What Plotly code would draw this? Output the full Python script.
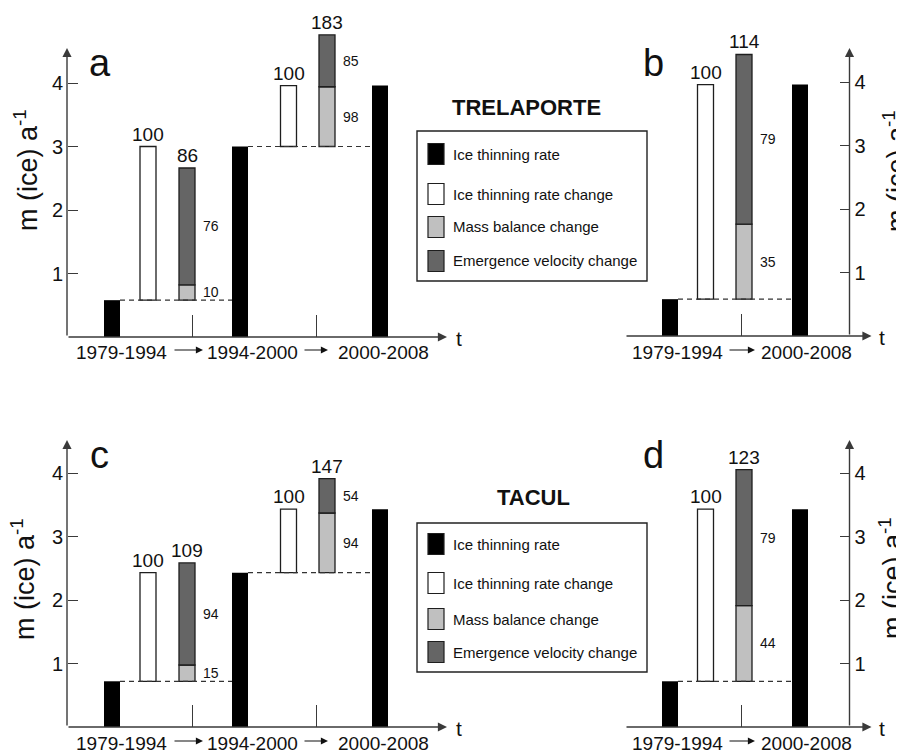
import plotly.graph_objects as go

W, H = 904, 753
OFF = 8           # the page body margin that shifts the figure on screen
FONT = "Liberation Sans, Arial, sans-serif"

# ------------------------------------------------------------------ data
glaciers = ["TRELAPORTE", "TACUL"]
periods = ["1979-1994", "1994-2000", "2000-2008"]
tick_values = [1, 2, 3, 4]
legend_labels = ["Ice thinning rate", "Ice thinning rate change",
                 "Mass balance change", "Emergence velocity change"]

# ice thinning rate (m ice / a) for 1979-1994, 1994-2000, 2000-2008
trel_rate = [0.58, 3.00, 3.96]
tacul_rate = [0.72, 2.43, 3.43]

# contributions (% of the ice thinning rate change = 100)
change_pct = 100
trel_mb_pct = [10, 98]
trel_ev_pct = [76, 85]
trel_total_pct = [86, 183]
trel_mb_pct_long = [35]
trel_ev_pct_long = [79]
trel_total_pct_long = [114]

tacul_mb_pct = [15, 94]
tacul_ev_pct = [94, 54]
tacul_total_pct = [109, 147]
tacul_mb_pct_long = [44]
tacul_ev_pct_long = [79]
tacul_total_pct_long = [123]

# ------------------------------------------------------------------ style / layout
BLACK, WHITE, LIGHT, DARK = "#000000", "#ffffff", "#c0c0c0", "#656565"
EDGE, AXIS, TXT = "#1e1e1e", "#3a3a3a", "#111111"
BW = 1.6          # bar width in x units (1 unit = 10 px)
YPX = 63.5        # px per y unit

LEFT_LAYOUT = dict(rate_x=[4.5, 17.3, 31.3], chg_x=[8.1, 22.15], stk_x=[12.0, 26.0],
                   tick_x=[12.5, 24.9], label_x=[5.4, 18.5, 31.6],
                   arrow_tip=[13.6, 26.1], arrow_len=[30, 25], yaxis_at=0.0, xtip=38.0)
RIGHT_LAYOUT = dict(rate_x=[4.5, 17.5], chg_x=[8.05], stk_x=[11.9],
                    tick_x=[11.6], label_x=[5.2, 18.1],
                    arrow_tip=[13.0], arrow_len=[27], yaxis_at=22.45, xtip=24.65)

panels = [
    dict(suffix="", letter="a", L=LEFT_LAYOUT, left=67, right=448, base=337, top=0,
         yaxis_px=67, side="left", rates=trel_rate, sel=[0, 1, 2],
         mb=trel_mb_pct, ev=trel_ev_pct, tot=trel_total_pct,
         labels=periods, letter_xy=(100, 63), title_xy=(26, 170), label_y=352, t_xy=(459, 338)),
    dict(suffix="2", letter="b", L=RIGHT_LAYOUT, left=625, right=872, base=336, top=0,
         yaxis_px=849.5, side="right", rates=trel_rate, sel=[0, 2],
         mb=trel_mb_pct_long, ev=trel_ev_pct_long, tot=trel_total_pct_long,
         labels=[periods[0], periods[2]], letter_xy=(653, 63), title_xy=(895, 171),
         label_y=352, t_xy=(882, 337)),
    dict(suffix="3", letter="c", L=LEFT_LAYOUT, left=67, right=448, base=727, top=383,
         yaxis_px=67, side="left", rates=tacul_rate, sel=[0, 1, 2],
         mb=tacul_mb_pct, ev=tacul_ev_pct, tot=tacul_total_pct,
         labels=periods, letter_xy=(99, 455), title_xy=(23, 579), label_y=743, t_xy=(459, 728)),
    dict(suffix="4", letter="d", L=RIGHT_LAYOUT, left=625, right=872, base=727, top=383,
         yaxis_px=849.5, side="right", rates=tacul_rate, sel=[0, 2],
         mb=tacul_mb_pct_long, ev=tacul_ev_pct_long, tot=tacul_total_pct_long,
         labels=[periods[0], periods[2]], letter_xy=(653, 455), title_xy=(891, 578),
         label_y=743, t_xy=(882, 728)),
]


def px_x(px):
    return (px - OFF) / W


def px_y(py):
    return 1 - (py - OFF) / H


fig = go.Figure()
annotations = []
shapes = []
layout_axes = {}

for p in panels:
    L = p["L"]
    xa, ya = "x" + p["suffix"], "y" + p["suffix"]
    sel = [p["rates"][i] for i in p["sel"]]
    prev, nxt = sel[:-1], sel[1:]
    diff = [b - a for a, b in zip(prev, nxt)]
    mbh = [d * m / 100 for d, m in zip(diff, p["mb"])]
    evh = [d * e / 100 for d, e in zip(diff, p["ev"])]
    ev_base = [a + m for a, m in zip(prev, mbh)]
    common = dict(xaxis=xa, yaxis=ya, showlegend=False, hoverinfo="skip", width=BW)

    fig.add_bar(x=L["rate_x"], y=sel, base=0,
                marker=dict(color=BLACK, line=dict(width=0)), **common)
    fig.add_bar(x=L["chg_x"], y=diff, base=prev,
                marker=dict(color=WHITE, line=dict(color=EDGE, width=1.3)), **common)
    fig.add_bar(x=L["stk_x"], y=mbh, base=prev,
                marker=dict(color=LIGHT, line=dict(color=EDGE, width=1.3)), **common)
    fig.add_bar(x=L["stk_x"], y=evh, base=ev_base,
                marker=dict(color=DARK, line=dict(color=EDGE, width=1.3)), **common)

    for i in range(len(prev)):
        fig.add_scatter(x=[L["rate_x"][i] + BW / 2, L["rate_x"][i + 1] - BW / 2],
                        y=[prev[i], prev[i]], mode="lines",
                        line=dict(color="#333333", width=1.2, dash="5px,4px"),
                        xaxis=xa, yaxis=ya, showlegend=False, hoverinfo="skip")

    # value labels
    for i in range(len(prev)):
        annotations.append(dict(x=L["chg_x"][i], y=nxt[i], xref=xa, yref=ya,
                                text=str(change_pct), showarrow=False,
                                xanchor="center", yanchor="bottom",
                                font=dict(size=19, color=TXT)))
        annotations.append(dict(x=L["stk_x"][i], y=ev_base[i] + evh[i], xref=xa, yref=ya,
                                text=str(p["tot"][i]), showarrow=False,
                                xanchor="center", yanchor="bottom",
                                font=dict(size=19, color=TXT)))
        xs = L["stk_x"][i] + BW / 2 + 0.6
        annotations.append(dict(x=xs, y=prev[i] + mbh[i] / 2, xref=xa, yref=ya,
                                text=str(p["mb"][i]), showarrow=False,
                                xanchor="left", yanchor="middle",
                                font=dict(size=14, color=TXT)))
        annotations.append(dict(x=xs, y=ev_base[i] + evh[i] / 2, xref=xa, yref=ya,
                                text=str(p["ev"][i]), showarrow=False,
                                xanchor="left", yanchor="middle",
                                font=dict(size=14, color=TXT)))

    # axis lines with arrow heads
    ytip = (p["base"] - (48 if p["top"] == 0 else 440)) / YPX
    annotations.append(dict(x=L["yaxis_at"], y=ytip, ax=L["yaxis_at"], ay=0,
                            xref=xa, yref=ya, axref=xa, ayref=ya, text="",
                            showarrow=True, arrowhead=2, arrowsize=1.3, arrowwidth=1.4,
                            arrowcolor=AXIS, standoff=0))
    annotations.append(dict(x=L["xtip"], y=0, ax=0, ay=0,
                            xref=xa, yref=ya, axref=xa, ayref=ya, text="",
                            showarrow=True, arrowhead=2, arrowsize=1.3, arrowwidth=1.4,
                            arrowcolor=AXIS, standoff=0))
    annotations.append(dict(x=px_x(p["t_xy"][0]), y=px_y(p["t_xy"][1]), xref="paper",
                            yref="paper", text="t", showarrow=False,
                            xanchor="center", yanchor="middle",
                            font=dict(size=21, color=TXT)))

    # period labels and arrows
    for lx, lab in zip(L["label_x"], p["labels"]):
        annotations.append(dict(x=lx, y=px_y(p["label_y"]), xref=xa, yref="paper",
                                text=lab, showarrow=False,
                                xanchor="center", yanchor="middle",
                                font=dict(size=19, color=TXT)))
    for tip, ln in zip(L["arrow_tip"], L["arrow_len"]):
        annotations.append(dict(x=tip, y=px_y(p["label_y"] - 2), xref=xa, yref="paper",
                                ax=-ln, ay=0, text="", showarrow=True, arrowhead=2,
                                arrowsize=1.3, arrowwidth=1.1, arrowcolor="#111111",
                                standoff=0))

    # panel letter and axis title
    annotations.append(dict(x=px_x(p["letter_xy"][0]), y=px_y(p["letter_xy"][1]),
                            xref="paper", yref="paper", text=p["letter"], showarrow=False,
                            xanchor="center", yanchor="middle",
                            font=dict(size=38, color=TXT)))
    annotations.append(dict(x=px_x(p["title_xy"][0]), y=px_y(p["title_xy"][1]),
                            xref="paper", yref="paper", text="m (ice) a<sup>-1</sup>",
                            textangle=-90, showarrow=False,
                            xanchor="center", yanchor="middle",
                            font=dict(size=27, color=TXT)))

    layout_axes["xaxis" + p["suffix"]] = dict(
        domain=[px_x(p["left"]), px_x(p["right"])],
        range=[0, (p["right"] - p["left"]) / 10], anchor=ya,
        showgrid=False, zeroline=False, showline=False,
        tickvals=L["tick_x"], ticktext=[""] * len(L["tick_x"]),
        ticks="inside", ticklen=22, tickwidth=1.3, tickcolor=AXIS, fixedrange=True)
    layout_axes["yaxis" + p["suffix"]] = dict(
        domain=[px_y(p["base"]), min(1.0, px_y(p["top"]))],
        range=[0, (p["base"] - max(p["top"], OFF)) / YPX], anchor="free",
        position=px_x(p["yaxis_px"]), side=p["side"],
        tickvals=tick_values, ticks="inside", ticklen=10, tickwidth=1.3, tickcolor=AXIS,
        ticklabelstandoff=4,
        tickfont=dict(size=20, color=TXT), showgrid=False, zeroline=False, showline=False,
        fixedrange=True)

# legends
legend_specs = [
    dict(title=glaciers[0], title_xy=(526, 107), box=(417, 131, 647, 281),
         rows=[154, 194, 227, 261]),
    dict(title=glaciers[1], title_xy=(533, 497), box=(417, 523, 647, 672),
         rows=[544, 583, 619, 652]),
]
swatches = [BLACK, WHITE, LIGHT, DARK]
for lg in legend_specs:
    annotations.append(dict(x=px_x(lg["title_xy"][0]), y=px_y(lg["title_xy"][1]),
                            xref="paper", yref="paper", text="<b>%s</b>" % lg["title"],
                            showarrow=False, xanchor="center", yanchor="middle",
                            font=dict(size=22, color=TXT)))
    x0, y0, x1, y1 = lg["box"]
    shapes.append(dict(type="rect", xref="paper", yref="paper",
                       x0=px_x(x0), x1=px_x(x1), y0=px_y(y1), y1=px_y(y0),
                       line=dict(color="#222222", width=1.4), fillcolor="rgba(0,0,0,0)"))
    for ry, col, lab in zip(lg["rows"], swatches, legend_labels):
        shapes.append(dict(type="rect", xref="paper", yref="paper",
                           x0=px_x(428), x1=px_x(444), y0=px_y(ry + 10.5), y1=px_y(ry - 10.5),
                           line=dict(color=EDGE, width=1.2), fillcolor=col))
        annotations.append(dict(x=px_x(451), y=px_y(ry), xref="paper", yref="paper",
                                text=lab, showarrow=False, xanchor="left", yanchor="middle",
                                font=dict(size=15, color=TXT)))

fig.update_layout(
    width=W, height=H, margin=dict(l=0, r=0, t=0, b=0),
    paper_bgcolor="white", plot_bgcolor="rgba(0,0,0,0)",
    barmode="overlay", font=dict(family=FONT, color=TXT),
    annotations=annotations, shapes=shapes, showlegend=False,
    **layout_axes,
)

fig.write_html("out.html")
